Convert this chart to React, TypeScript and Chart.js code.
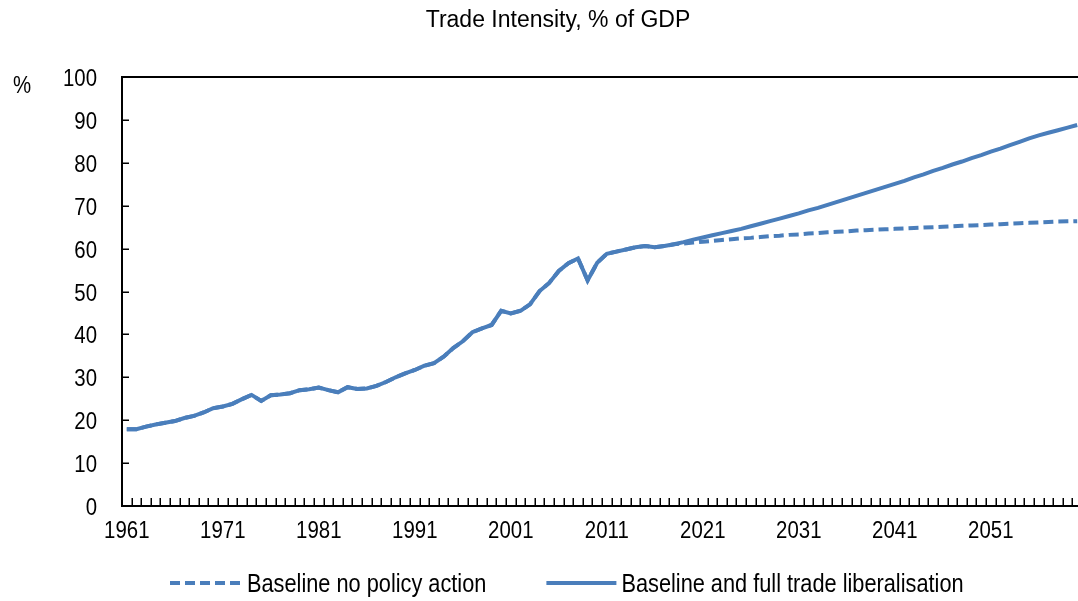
import React, { useEffect, useRef } from 'react';
import { Chart, registerables } from 'chart.js';

Chart.register(...registerables);

const TITLE = 'Trade Intensity, % of GDP';
const UNIT = '%';
const SERIES_NAMES = ['Baseline no policy action', 'Baseline and full trade liberalisation'];

// Years 1961..2060 (one category per year)
const years: string[] = Array.from({ length: 100 }, (_, i) => String(1961 + i));
const labelEvery = 10;

const yTicks = [0, 10, 20, 30, 40, 50, 60, 70, 80, 90, 100];

// Historical trade intensity 1961..2017
const history = [
  17.9, 17.9, 18.5, 19.0, 19.4, 19.8, 20.5, 21.0, 21.8, 22.8,
  23.2, 23.8, 24.9, 25.9, 24.5, 25.8, 26.0, 26.3, 27.0, 27.2,
  27.6, 27.0, 26.5, 27.7, 27.3, 27.4, 28.0, 28.9, 30.0, 30.9,
  31.7, 32.7, 33.3, 34.8, 36.8, 38.4, 40.5, 41.4, 42.2, 45.5,
  44.9, 45.5, 47.0, 50.1, 52.0, 54.8, 56.6, 57.7, 52.6, 56.7,
  58.8, 59.3, 59.8, 60.3, 60.6, 60.3, 60.6,
];

// Projections 2018..2060
const noPolicy = [
  61.0, 61.2, 61.4, 61.6, 61.8, 62.0, 62.2, 62.4, 62.5, 62.7,
  62.9, 63.0, 63.2, 63.3, 63.5, 63.6, 63.8, 63.9, 64.0, 64.2,
  64.3, 64.4, 64.5, 64.6, 64.7, 64.8, 64.9, 65.0, 65.1, 65.2,
  65.3, 65.4, 65.5, 65.6, 65.7, 65.8, 65.9, 66.0, 66.1, 66.2,
  66.3, 66.35, 66.4,
];
const fullLiberalisation = [
  61.0, 61.5, 62.1, 62.6, 63.1, 63.6, 64.1, 64.6, 65.2, 65.8,
  66.4, 67.0, 67.6, 68.2, 68.9, 69.5, 70.2, 70.9, 71.6, 72.3,
  73.0, 73.7, 74.4, 75.1, 75.8, 76.6, 77.3, 78.1, 78.8, 79.6,
  80.3, 81.1, 81.8, 82.6, 83.3, 84.1, 84.9, 85.7, 86.4, 87.0,
  87.6, 88.2, 88.8,
];

const BLUE = '#4a7ebb';
const FONT = '"Liberation Sans", Arial, sans-serif';
const TICK_SIZE = 24;
const TICK_SX = 0.85; // condensed look (Arial Narrow-like)
const LEGEND_SIZE = 25;
const LEGEND_SX = 0.87;
const DASH = [10, 5];

function narrowText(
  ctx: CanvasRenderingContext2D,
  text: string,
  x: number,
  y: number,
  size: number,
  sx: number,
  align: CanvasTextAlign
) {
  ctx.save();
  ctx.translate(x, y);
  ctx.scale(sx, 1);
  ctx.font = `${size}px ${FONT}`;
  ctx.textAlign = align;
  ctx.textBaseline = 'alphabetic';
  ctx.fillStyle = '#000';
  ctx.fillText(text, 0, 0);
  ctx.restore();
}

const decorPlugin = {
  id: 'decor',
  afterDraw(chart: any) {
    const { ctx, chartArea: a, scales } = chart;
    const xs = scales.x;
    const ys = scales.y;
    ctx.save();
    // inner tick marks
    ctx.strokeStyle = '#000';
    ctx.lineWidth = 1.5;
    ctx.beginPath();
    const step = xs.getPixelForValue(1) - xs.getPixelForValue(0);
    for (let i = 0; i < years.length; i++) {
      const px = Math.round(xs.getPixelForValue(i) + step / 2) + 0.25;
      ctx.moveTo(px, a.bottom);
      ctx.lineTo(px, a.bottom - 8);
    }
    for (const v of yTicks) {
      if (v === 0 || v === 100) continue;
      const py = Math.round(ys.getPixelForValue(v)) + 0.25;
      ctx.moveTo(a.left, py);
      ctx.lineTo(a.left + 7, py);
    }
    ctx.stroke();
    // top frame line
    ctx.lineWidth = 2;
    ctx.beginPath();
    ctx.moveTo(a.left, Math.round(a.top));
    ctx.lineTo(chart.width, Math.round(a.top));
    ctx.stroke();

    // y tick labels
    ys.ticks.forEach((t: any, i: number) => {
      const py = ys.getPixelForTick(i);
      narrowText(ctx, String(t.value), a.left - 25, py + 9, TICK_SIZE, TICK_SX, 'right');
    });
    // x tick labels
    xs.ticks.forEach((t: any, i: number) => {
      if (i % labelEvery !== 0) return;
      const px = xs.getPixelForTick(i);
      narrowText(ctx, years[i], px, a.bottom + 32, TICK_SIZE, TICK_SX, 'center');
    });

    // title
    ctx.fillStyle = '#000';
    ctx.font = `23px ${FONT}`;
    ctx.textAlign = 'center';
    ctx.textBaseline = 'alphabetic';
    ctx.fillText(TITLE, 558, 27);

    // unit label
    narrowText(ctx, UNIT, 22, 93, TICK_SIZE, TICK_SX, 'center');

    // legend
    const ly = 583;
    let x = 170;
    const lens = [73, 70];
    const gapsText = [4, 5];
    chart.data.datasets.forEach((ds: any, i: number) => {
      ctx.save();
      ctx.strokeStyle = ds.borderColor;
      ctx.lineWidth = ds.borderWidth;
      ctx.setLineDash(ds.borderDash || []);
      ctx.beginPath();
      ctx.moveTo(x, ly);
      ctx.lineTo(x + lens[i], ly);
      ctx.stroke();
      ctx.restore();
      x += lens[i] + gapsText[i];
      narrowText(ctx, ds.label, x, ly + 9, LEGEND_SIZE, LEGEND_SX, 'left');
      ctx.save();
      ctx.font = `${LEGEND_SIZE}px ${FONT}`;
      x += ctx.measureText(ds.label).width * LEGEND_SX + 60;
      ctx.restore();
    });
    ctx.restore();
  },
};

export default function App() {
  const ref = useRef<HTMLCanvasElement | null>(null);

  useEffect(() => {
    if (!ref.current) return;
    const chart = new Chart(ref.current, {
      type: 'line',
      data: {
        labels: years,
        datasets: [
          {
            label: SERIES_NAMES[0],
            data: [...history, ...noPolicy],
            borderColor: BLUE,
            backgroundColor: BLUE,
            borderWidth: 4,
            borderDash: DASH,
            pointRadius: 0,
            tension: 0,
            order: 2,
          },
          {
            label: SERIES_NAMES[1],
            data: [...history, ...fullLiberalisation],
            borderColor: BLUE,
            backgroundColor: BLUE,
            borderWidth: 4,
            pointRadius: 0,
            tension: 0,
            order: 1,
          },
        ],
      },
      options: {
        responsive: false,
        animation: false,
        devicePixelRatio: 1,
        layout: { padding: { top: 77, right: 8, left: 0, bottom: 0 } },
        plugins: {
          legend: { display: false },
          title: { display: false },
          tooltip: { enabled: false },
        },
        scales: {
          x: {
            type: 'category',
            offset: true,
            grid: { display: false, drawTicks: false },
            border: { display: true, color: '#000', width: 2 },
            ticks: { display: false, autoSkip: false, maxRotation: 0 },
            afterFit: (scale: any) => {
              scale.height = 95;
            },
          },
          y: {
            min: 0,
            max: 100,
            grid: { display: false, drawTicks: false },
            border: { display: true, color: '#000', width: 2 },
            ticks: { display: false, stepSize: 10 },
            afterFit: (scale: any) => {
              scale.width = 122;
            },
          },
        },
      },
      plugins: [decorPlugin],
    });
    return () => chart.destroy();
  }, []);

  return (
    <div
      style={{
        position: 'absolute',
        left: 0,
        top: 0,
        width: 1078,
        height: 601,
        overflow: 'hidden',
        background: '#fff',
      }}
    >
      <canvas ref={ref} width={1090} height={601} style={{ display: 'block' }} />
    </div>
  );
}
